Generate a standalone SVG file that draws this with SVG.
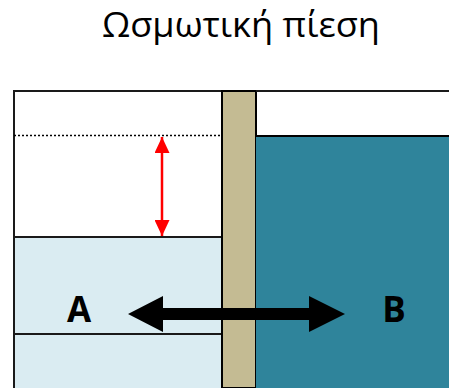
<svg xmlns="http://www.w3.org/2000/svg" width="449" height="388" viewBox="0 0 449 388">
<style>
.edge{stroke:#1a1a1a;stroke-width:2;fill:none}
.lbl{font-family:"Open Sans","Noto Sans","DejaVu Sans",sans-serif;font-weight:bold;font-size:35px;fill:#000;text-anchor:middle}
</style>
<defs>
<marker id="redhead" viewBox="0 0 16 15" refX="16" refY="7.5" markerWidth="16" markerHeight="15" markerUnits="userSpaceOnUse" orient="auto-start-reverse">
<path d="M0,0 L16,7.5 L0,15 Z" fill="#FF0000"/>
</marker>
</defs>
<rect width="449" height="388" fill="#fff"/>
<text x="241" y="37" font-family="Open Sans, Noto Sans, sans-serif" font-size="34" text-anchor="middle" textLength="278" lengthAdjust="spacingAndGlyphs" fill="#000">Ωσμωτική πίεση</text>
<g id="left-chamber">
<rect x="14" y="237" width="208" height="151" fill="#DAECF2"/>
<rect x="14" y="237" width="208" height="97" class="edge"/>
<path d="M14,388 V91 H222 V388" class="edge"/>
<line x1="14" y1="135.5" x2="222" y2="135.5" stroke="#000" stroke-width="1.5" stroke-dasharray="2,2"/>
</g>
<g id="membrane">
<rect x="222" y="91" width="34" height="297" fill="#C4BB93" stroke="#000" stroke-width="2"/>
</g>
<g id="right-chamber">
<rect x="256" y="136" width="194" height="253" fill="#2F849B"/>
<line x1="256" y1="136" x2="449" y2="136" stroke="#000" stroke-width="2"/>
<line x1="256" y1="91" x2="449" y2="91" class="edge"/>
</g>
<g id="connectors">
<line x1="162" y1="137" x2="162" y2="236" stroke="#FF0000" stroke-width="2.5" marker-start="url(#redhead)" marker-end="url(#redhead)"/>
<path d="M128,314 L163,296 L163,308 L309,308 L309,296 L345,314 L309,332 L309,320 L163,320 L163,332 Z" fill="#000"/>
</g>
<g id="label-A"><text x="79" y="322" class="lbl">A</text></g>
<g id="label-B"><text x="394" y="322" class="lbl">B</text></g>
</svg>
